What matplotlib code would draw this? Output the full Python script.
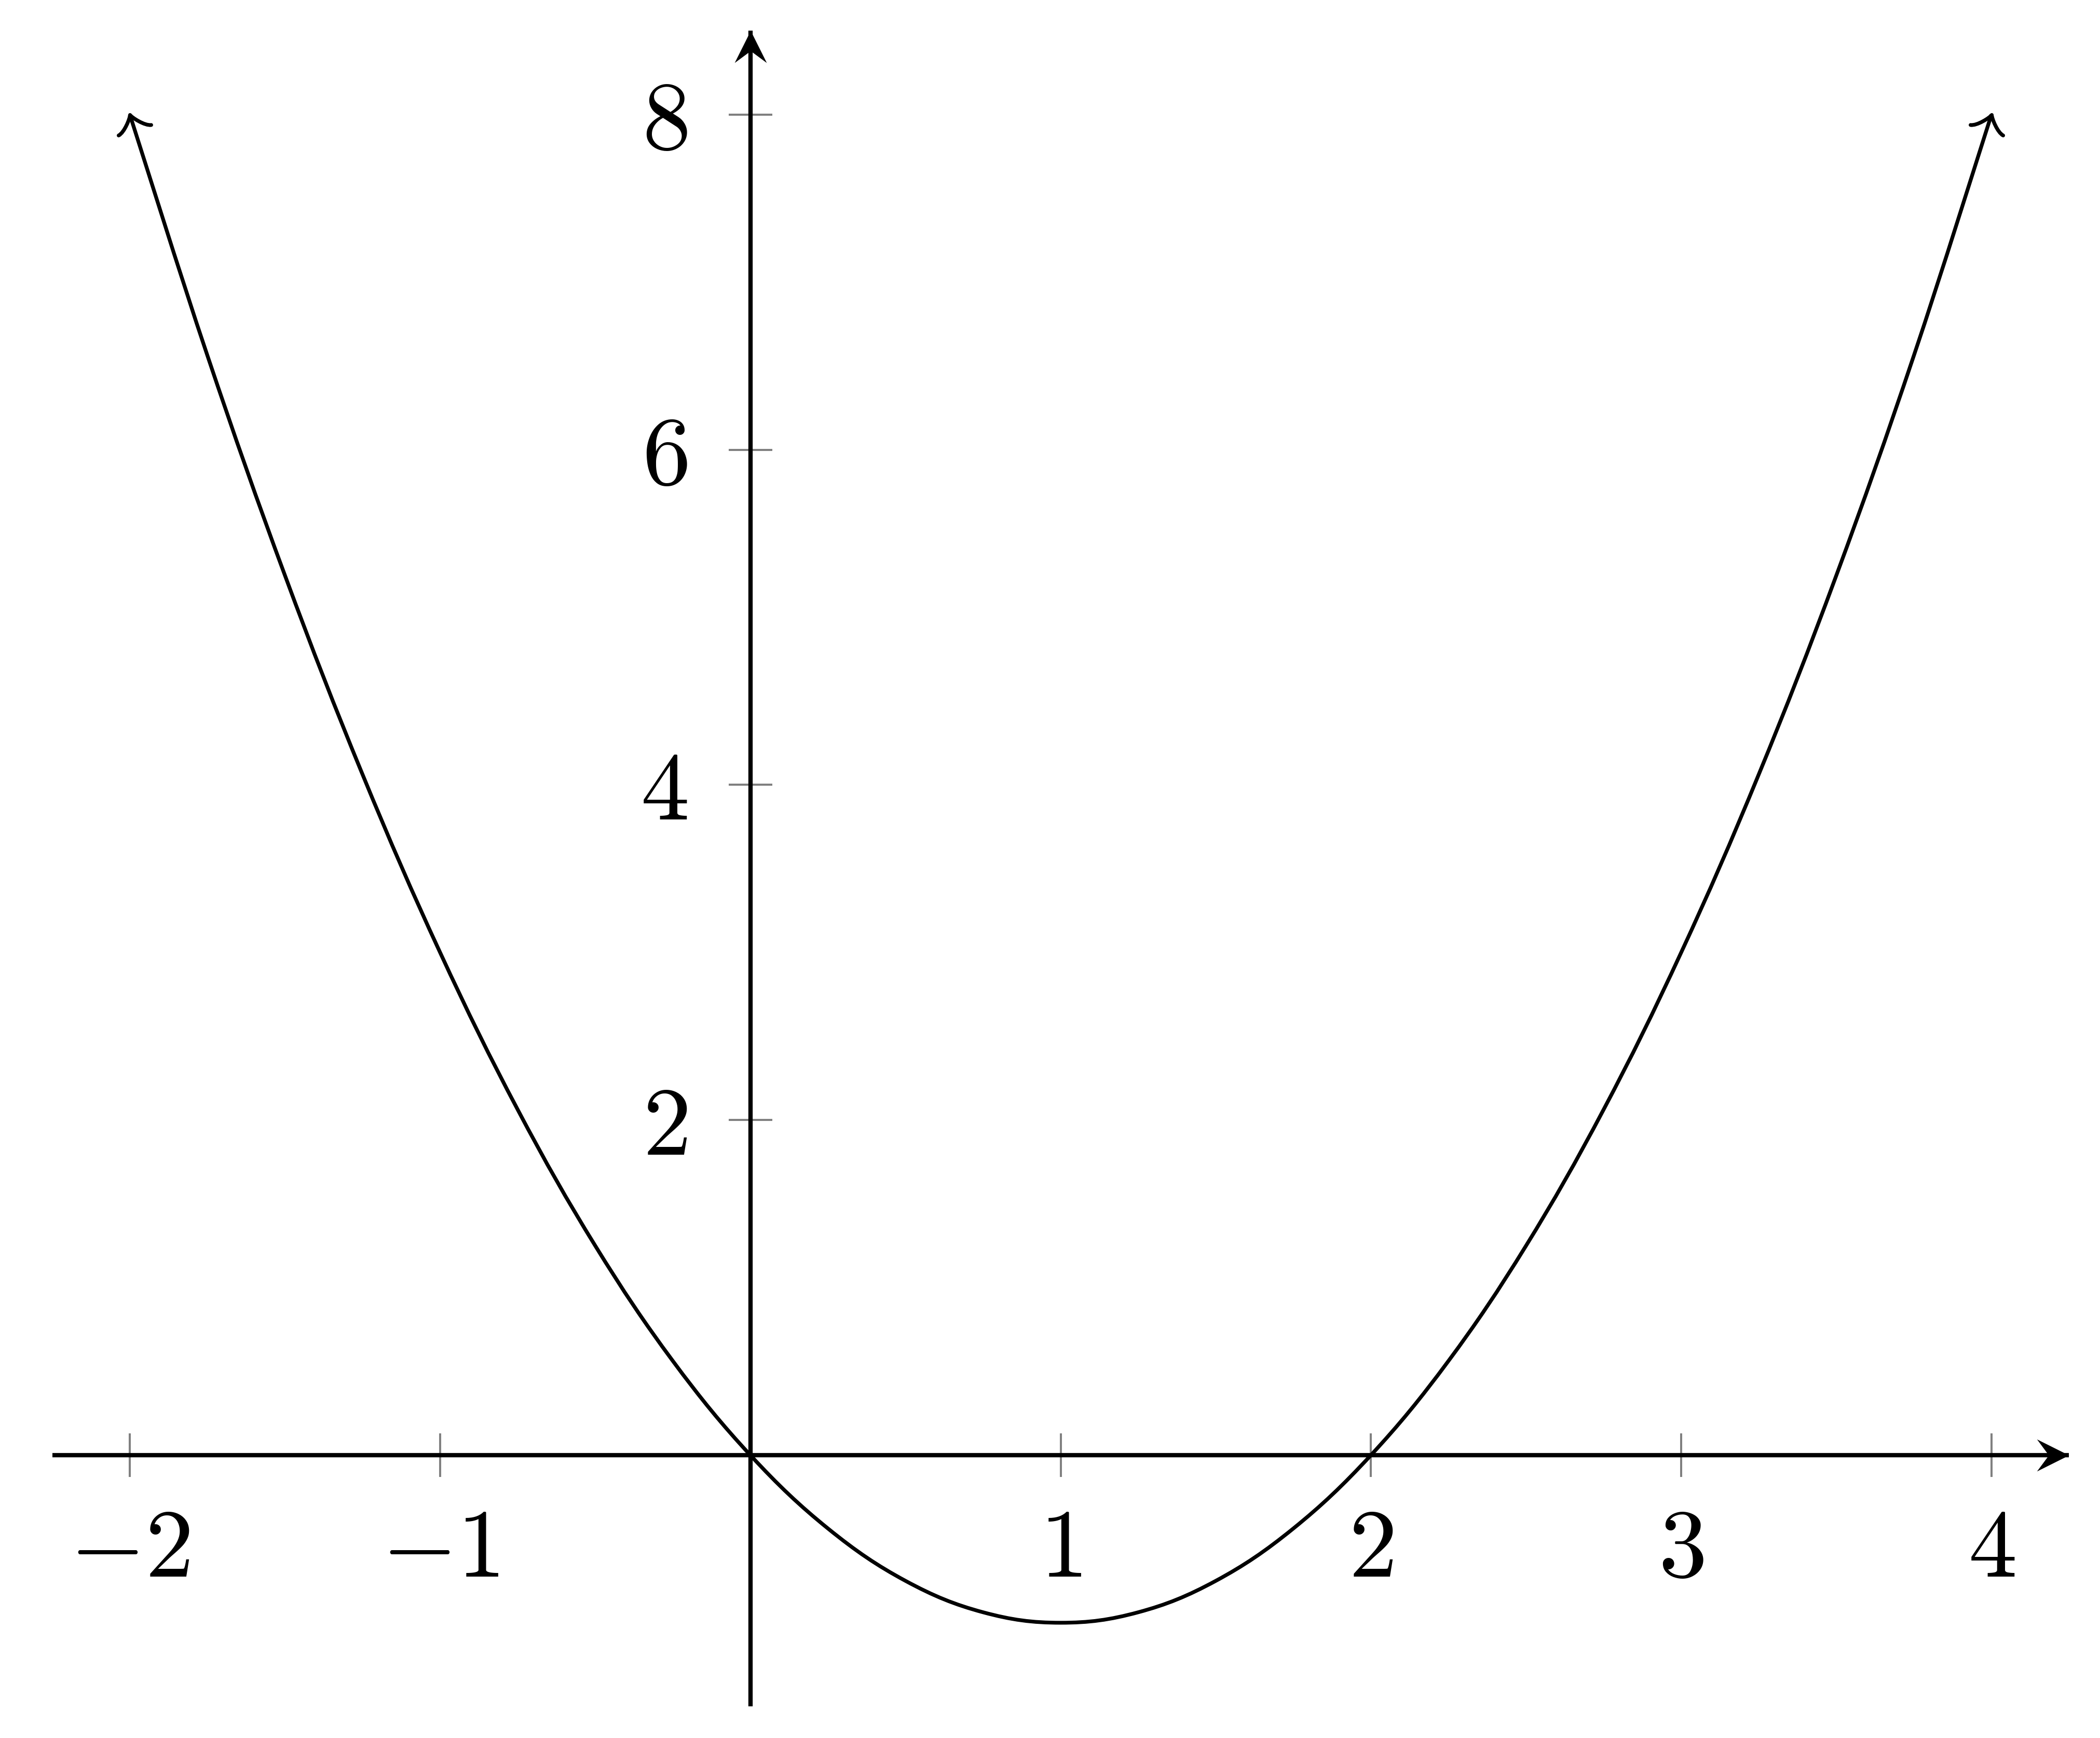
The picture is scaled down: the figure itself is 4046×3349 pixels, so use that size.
import numpy as np
import matplotlib
matplotlib.use("Agg")
import matplotlib.pyplot as plt
from matplotlib.patches import PathPatch
from matplotlib.path import Path
from matplotlib.markers import MarkerStyle
from matplotlib.transforms import Affine2D, ScaledTranslation

plt.rcParams['mathtext.fontset'] = 'cm'

xs = [-2.0, -1.75, -1.5, -1.25, -1.0, -0.75, -0.5, -0.25, 0.0, 0.25, 0.5, 0.75, 1.0,
      1.25, 1.5, 1.75, 2.0, 2.25, 2.5, 2.75, 3.0, 3.25, 3.5, 3.75, 4.0]
ys = [8.0, 6.5625, 5.25, 4.0625, 3.0, 2.0625, 1.25, 0.5625, 0.0, -0.4375, -0.75, -0.9375, -1.0,
      -0.9375, -0.75, -0.4375, 0.0, 0.5625, 1.25, 2.0625, 3.0, 4.0625, 5.25, 6.5625, 8.0]

xticks = [-2, -1, 1, 2, 3, 4]
yticks = [2, 4, 6, 8]
x_range = (-2.25, 4.25)
y_range = (-1.5, 8.5)


def smooth_path(x, y, tension=0.55):
	# cubic bezier through all points, like tikz "smooth"
	p = np.column_stack([x, y]).astype(float)
	n = len(p)
	k = tension / 3.0
	verts = [p[0]]
	codes = [Path.MOVETO]
	for i in range(n - 1):
		prev = p[max(i - 1, 0)]
		nxt = p[min(i + 2, n - 1)]
		c1 = p[i] + k * (p[i + 1] - prev)
		c2 = p[i + 1] - k * (nxt - p[i])
		verts += [c1, c2, p[i + 1]]
		codes += [Path.CURVE4] * 3
	return Path(verts, codes)


fig = plt.figure(figsize=(40.46, 33.49), dpi=100)
ax = fig.add_axes([0, 0, 1, 1])
ax.set_xlim(-2.4184, 4.3498)
ax.set_ylim(-1.6878, 8.6838)

# axis lines through the origin
for side in ['top', 'right']:
	ax.spines[side].set_visible(False)
ax.spines['left'].set_position('zero')
ax.spines['bottom'].set_position('zero')
ax.spines['bottom'].set_bounds(*x_range)
ax.spines['left'].set_bounds(*y_range)
for side in ['left', 'bottom']:
	ax.spines[side].set_linewidth(6)
	ax.spines[side].set_capstyle('butt')

ax.set_xticks(xticks)
ax.set_xticklabels([r'$%d$' % t for t in xticks])
ax.set_yticks(yticks)
ax.tick_params(direction='inout', length=61, width=2.9, color='#808080', labelsize=135)
ax.tick_params(axis='x', pad=36)
ax.tick_params(axis='y', labelleft=False)

# y labels, right aligned left of the axis, digits centred on the tick
ylab_offset = ax.transData + ScaledTranslation(-1.21, -0.665, fig.dpi_scale_trans)
for t in yticks:
	ax.text(0, t, r'$%d$' % t, fontsize=135, ha='right', va='baseline',
	        transform=ylab_offset)

# stealth style arrow heads on the axes
stealth_up = Path([(0, 0), (0.5, -1), (0, -0.63), (-0.5, -1), (0, 0)],
                  [Path.MOVETO, Path.LINETO, Path.LINETO, Path.LINETO, Path.CLOSEPOLY])
stealth_right = Path([(0, 0), (-1, 0.5), (-0.63, 0), (-1, -0.5), (0, 0)],
                     [Path.MOVETO, Path.LINETO, Path.LINETO, Path.LINETO, Path.CLOSEPOLY])
ax.plot([0], [y_range[1]], marker=stealth_up, markersize=89, color='black',
        markeredgewidth=0, clip_on=False, zorder=5)
ax.plot([x_range[1]], [0], marker=stealth_right, markersize=89, color='black',
        markeredgewidth=0, clip_on=False, zorder=5)

# the curve
curve = PathPatch(smooth_path(xs, ys), facecolor='none', edgecolor='black',
                  linewidth=5.2, capstyle='butt', joinstyle='round', zorder=4)
ax.add_patch(curve)

# open "to" style arrow heads at both ends of the curve
to_head = Path([(-3.75, 4), (-3.5, 2.5), (-0.75, 0.25), (0, 0),
                (-0.75, -0.25), (-3.5, -2.5), (-3.75, -4)],
               [Path.MOVETO, Path.CURVE4, Path.CURVE4, Path.CURVE4,
                Path.CURVE4, Path.CURVE4, Path.CURVE4])
for i_tip, i_prev in [(0, 1), (-1, -2)]:
	tip = ax.transData.transform((xs[i_tip], ys[i_tip]))
	prev = ax.transData.transform((xs[i_prev], ys[i_prev]))
	ang = np.degrees(np.arctan2(tip[1] - prev[1], tip[0] - prev[0]))
	ms = MarkerStyle(to_head, fillstyle='none', transform=Affine2D().rotate_deg(ang),
	                 capstyle='round', joinstyle='round')
	ax.plot([xs[i_tip]], [ys[i_tip]], marker=ms, markersize=47.5, markeredgewidth=5.2,
	        markeredgecolor='black', markerfacecolor='none', linestyle='none',
	        clip_on=False, zorder=4)

fig.savefig('out.png', dpi=100)
